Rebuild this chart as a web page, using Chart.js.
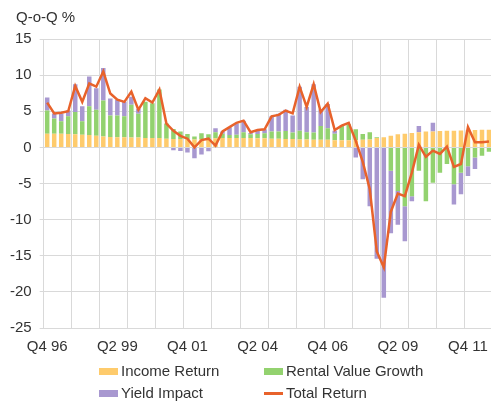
<!DOCTYPE html>
<html>
<head>
<meta charset="utf-8">
<script src="https://cdn.jsdelivr.net/npm/chart.js@4"></script>
<style>
    body { margin: 0; background: #fff; font-family: "Liberation Sans", Arial, sans-serif; color: #333; }
    #wrap { position: relative; width: 491px; height: 401px; overflow: hidden; }
    #yTitle { position: absolute; left: 16px; top: 8px; font-size: 15px; line-height: 18px; }
    .legendItem { position: absolute; display: flex; align-items: center; font-size: 15px; line-height: 18px; white-space: nowrap; }
    .legendItem .box { display: inline-block; width: 19px; height: 7px; margin-right: 3px; }
    .legendItem .line { display: inline-block; width: 19px; height: 3px; margin-right: 3px; }
</style>
</head>
<body>
<div id="wrap">
    <!-- a bit wider than the page: the original plot is cut off at the right edge -->
    <canvas id="returnChart" width="499" height="401"></canvas>
    <div id="yTitle">Q-o-Q %</div>
    <div id="legend"></div>
</div>
<script>
// quarters, Q4 96 .. Q3 12
const quarters = [
    'Q4 96',
    'Q1 97', 'Q2 97', 'Q3 97', 'Q4 97',
    'Q1 98', 'Q2 98', 'Q3 98', 'Q4 98',
    'Q1 99', 'Q2 99', 'Q3 99', 'Q4 99',
    'Q1 00', 'Q2 00', 'Q3 00', 'Q4 00',
    'Q1 01', 'Q2 01', 'Q3 01', 'Q4 01',
    'Q1 02', 'Q2 02', 'Q3 02', 'Q4 02',
    'Q1 03', 'Q2 03', 'Q3 03', 'Q4 03',
    'Q1 04', 'Q2 04', 'Q3 04', 'Q4 04',
    'Q1 05', 'Q2 05', 'Q3 05', 'Q4 05',
    'Q1 06', 'Q2 06', 'Q3 06', 'Q4 06',
    'Q1 07', 'Q2 07', 'Q3 07', 'Q4 07',
    'Q1 08', 'Q2 08', 'Q3 08', 'Q4 08',
    'Q1 09', 'Q2 09', 'Q3 09', 'Q4 09',
    'Q1 10', 'Q2 10', 'Q3 10', 'Q4 10',
    'Q1 11', 'Q2 11', 'Q3 11', 'Q4 11',
    'Q1 12', 'Q2 12', 'Q3 12'
];

const incomeReturn = [
    1.9, 1.9, 1.9, 1.85,
    1.8, 1.75, 1.7, 1.6,
    1.5, 1.45, 1.4, 1.4,
    1.35, 1.35, 1.3, 1.3,
    1.3, 1.2, 1.15, 1.15,
    1.1, 1.1, 1.15, 1.2,
    1.25, 1.3, 1.3, 1.3,
    1.3, 1.3, 1.25, 1.25,
    1.2, 1.2, 1.15, 1.15,
    1.1, 1.1, 1.05, 1.05,
    1.05, 1.0, 1.0, 1.0,
    1.0, 1.05, 1.1, 1.3,
    1.4, 1.6, 1.8, 1.9,
    2.0, 2.1, 2.2, 2.2,
    2.25, 2.3, 2.3, 2.35,
    2.4, 2.4, 2.45, 2.45
];

const rentalValueGrowth = [
    3.2, 2.1, 1.7, 2.45,
    3.1, 1.85, 4.0, 3.6,
    5.0, 2.95, 3.0, 2.9,
    4.55, 3.3, 5.0, 4.8,
    6.7, 2.1, 1.4, 1.05,
    0.75, 0.4, 0.8, 0.6,
    0.85, 0.6, 0.4, 0.45,
    0.8, 0.5, 0.6, 0.7,
    1.0, 1.0, 1.1, 0.9,
    1.2, 1.0, 1.0, 1.9,
    1.6, 0.9, 2.0, 2.2,
    1.5, 0.8, 1.0, 0.1,
    0, -3.25, -6.05, -8.15,
    -6.75, -3.25, -7.45, -4.9,
    -3.5, -2.3, -5.1, -3.5,
    -2.6, -1.4, -1.15, -0.6
];

const yieldImpact = [
    1.8, 0.7, 1.1, 0.8,
    3.85, 2.1, 4.1, 3.0,
    4.5, 2.35, 2.2, 2.0,
    1.1, 0.7, 0, 0,
    0, 0, -0.4, -0.5,
    -0.7, -1.5, -1.0, -0.55,
    0.55, 0.3, 1.1, 1.55,
    1.6, 0.2, 0.45, 0.55,
    2.1, 2.45, 2.95, 2.35,
    6.1, 3.5, 6.7, 2.3,
    3.35, 0.4, 0, 0,
    -1.4, -4.4, -8.15, -15.4,
    -20.8, -8.65, -4.65, -4.85,
    -0.7, 0.85, 0, 1.2,
    0, 0, -2.8, -3.0,
    -1.35, -1.6, 0, 0
];

const totalReturn = [
    6.2, 4.7, 4.8, 5.0,
    8.5, 6.3, 8.85, 8.4,
    10.5, 7.45, 6.6, 6.3,
    7.7, 5.2, 6.8, 6.2,
    8.0, 3.3, 2.3, 1.6,
    1.2, 0.0, 1.0, 1.2,
    0.25, 2.2, 2.8, 3.4,
    3.7, 2.1, 2.4, 2.5,
    4.3, 4.5, 5.1, 4.7,
    8.4, 5.6, 8.75, 4.9,
    6.05, 2.4, 3.0, 3.4,
    0.9, -2.0, -5.8, -14.4,
    -16.6, -8.9, -6.4, -6.75,
    -3.5, 0.35, -1.3, -0.45,
    -0.9, 0.1, -2.7, -2.3,
    2.8, 0.7, 0.7, 0.8
];

const gridColor = '#d9d9d9';
const textColor = '#333';

const barSet = (label, data, color) => ({
    type: 'bar',
    label: label,
    data: data,
    backgroundColor: color,
    borderWidth: 0,
    stack: 'parts',
    order: 1,
    categoryPercentage: 1,
    barPercentage: 0.64
});

const datasets = [
    barSet('Income Return', incomeReturn, '#fecb6c'),
    barSet('Rental Value Growth', rentalValueGrowth, '#93d26f'),
    barSet('Yield Impact', yieldImpact, '#a898d0'),
    {
        type: 'line',
        label: 'Total Return',
        data: totalReturn,
        borderColor: '#e8622b',
        backgroundColor: '#e8622b',
        borderWidth: 2.5,
        pointRadius: 0,
        tension: 0,
        stack: 'total',
        order: 0
    }
];

new Chart(document.getElementById('returnChart'), {
    data: { labels: quarters, datasets: datasets },
    options: {
        responsive: false,
        animation: false,
        layout: { autoPadding: false, padding: { top: 39, left: 2, right: 0, bottom: 35 } },
        plugins: {
            legend: { display: false },
            tooltip: { enabled: false }
        },
        scales: {
            x: {
                stacked: true,
                border: { color: gridColor },
                grid: {
                    offset: true,
                    drawTicks: false,
                    color: (ctx) => (ctx.index % 4 === 0 ? gridColor : 'rgba(0,0,0,0)')
                },
                ticks: {
                    autoSkip: false,
                    maxRotation: 0,
                    padding: 10,
                    color: textColor,
                    font: { family: '"Liberation Sans", Arial, sans-serif', size: 15 },
                    callback: function (value, index) {
                        return index % 10 === 0 ? this.getLabelForValue(value) : '';
                    }
                }
            },
            y: {
                stacked: true,
                min: -25,
                max: 15,
                border: { color: gridColor },
                grid: { color: gridColor, tickLength: 4 },
                ticks: {
                    stepSize: 5,
                    padding: 8,
                    color: textColor,
                    font: { family: '"Liberation Sans", Arial, sans-serif', size: 15 }
                }
            }
        }
    }
});

// legend in two columns, like the original
const legendPlaces = [
    { left: 99, top: 362 },
    { left: 264, top: 362 },
    { left: 99, top: 384 },
    { left: 264, top: 384 }
];
const legend = document.getElementById('legend');
datasets.forEach((ds, i) => {
    const item = document.createElement('div');
    item.className = 'legendItem';
    item.style.left = legendPlaces[i].left + 'px';
    item.style.top = legendPlaces[i].top + 'px';
    const mark = document.createElement('span');
    mark.className = ds.type === 'line' ? 'line' : 'box';
    mark.style.background = ds.type === 'line' ? ds.borderColor : ds.backgroundColor;
    item.appendChild(mark);
    item.appendChild(document.createTextNode(ds.label));
    legend.appendChild(item);
});
</script>
</body>
</html>
